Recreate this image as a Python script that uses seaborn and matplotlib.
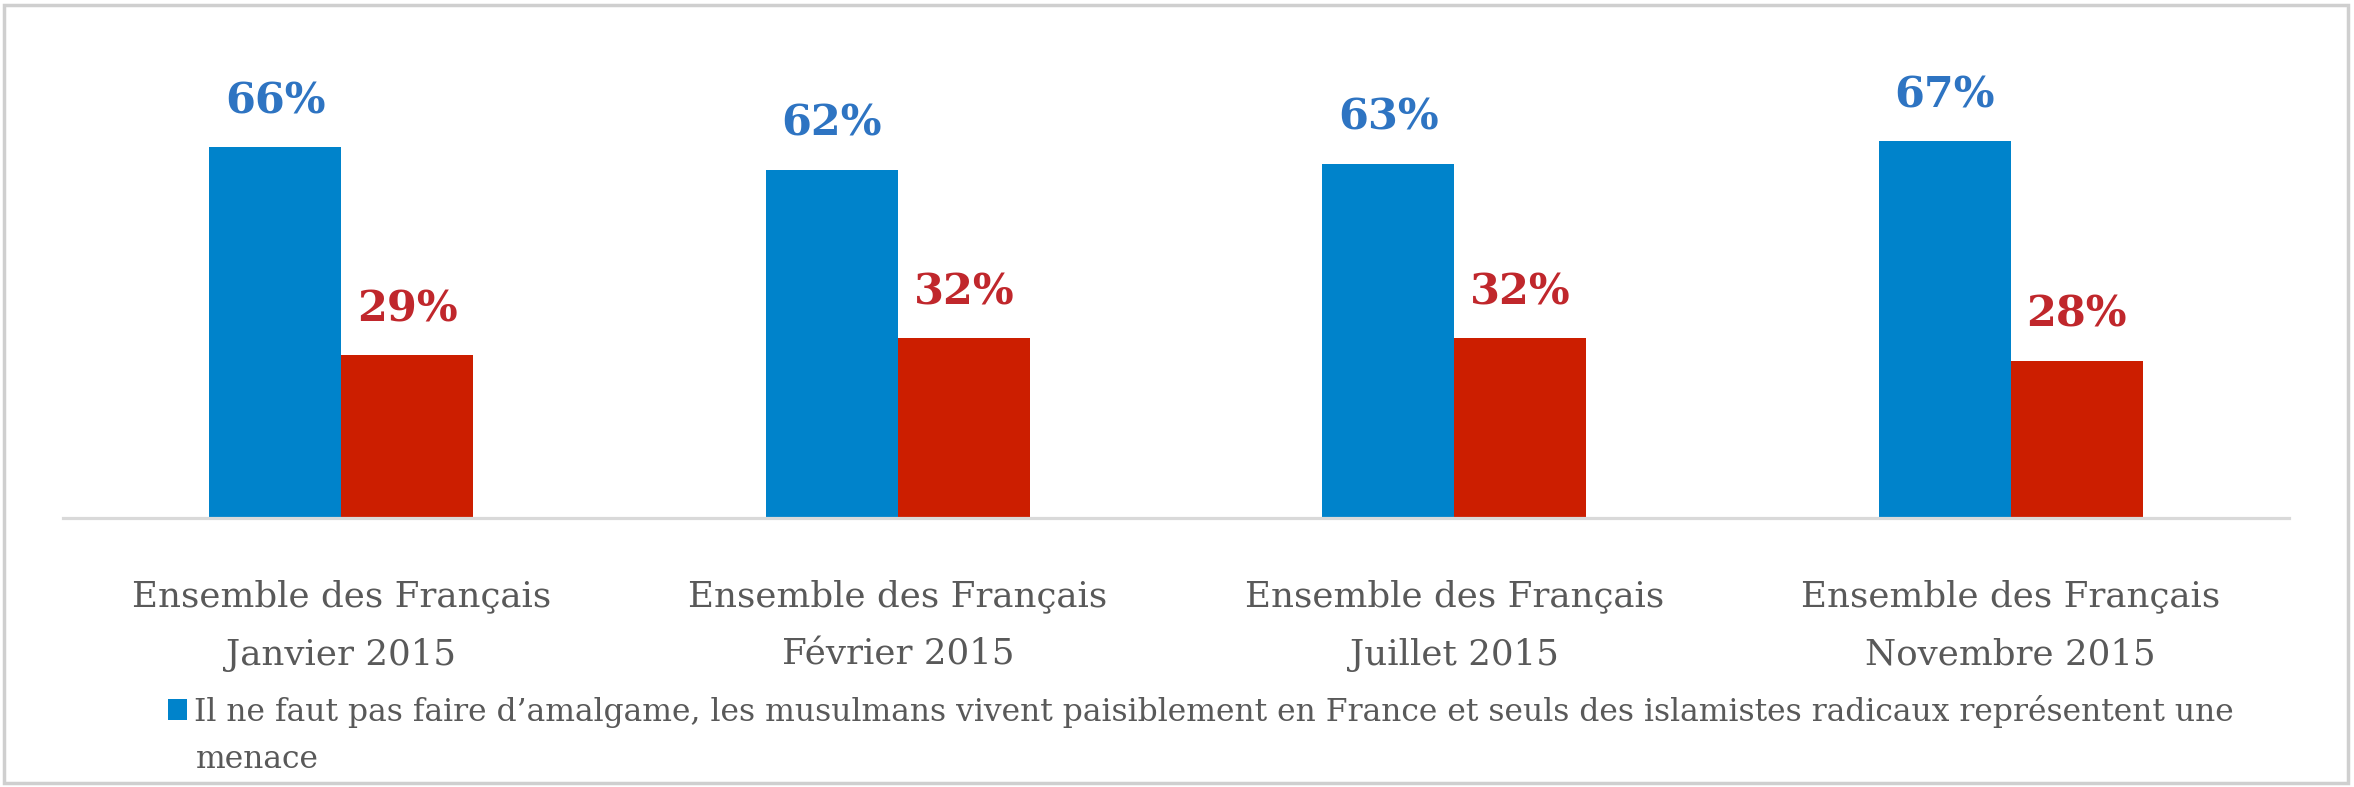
import pandas as pd
import numpy as np
import matplotlib.pyplot as plt
import seaborn as sns
from matplotlib.patches import Rectangle

# ==================== données ====================
categories = ['Ensemble des Français\nJanvier 2015',
              'Ensemble des Français\nFévrier 2015',
              'Ensemble des Français\nJuillet 2015',
              'Ensemble des Français\nNovembre 2015']
series = ["Il ne faut pas faire d\u2019amalgame, les musulmans vivent paisiblement en France et seuls des islamistes radicaux représentent une",
          "Les musulmans représentent une menace"]
amalgame_non = [66, 62, 63, 67]
menace = [29, 32, 32, 28]

bar_colors = ['#0083CB', '#CC1E00']
label_colors = ['#2E74C2', '#C0272C']
grey_txt = '#595959'

df = pd.DataFrame({
    'cat': categories * 2,
    'serie': [series[0]] * 4 + [series[1]] * 4,
    'val': amalgame_non + menace,
})

# ==================== réglages ====================
sns.set_style('white')
plt.rcParams['font.family'] = ['DejaVu Serif']

W, H = 2354, 787
fig = plt.figure(figsize=(W / 100, H / 100), dpi=100)
ax = fig.add_axes([63 / W, (H - 518) / H, 2226 / W, 88 * 5.62 / H])

sns.barplot(data=df, x='cat', y='val', hue='serie', palette=bar_colors,
            width=0.475, dodge=True, linewidth=0, saturation=1, ax=ax)

ax.set_ylim(0, 88)
ax.set_xlabel('')
ax.set_ylabel('')
ax.set_yticks([])
for s in ['top', 'left', 'right']:
    ax.spines[s].set_visible(False)
ax.spines['bottom'].set_color('#d9d9d9')
ax.spines['bottom'].set_linewidth(2.3)
ax.tick_params(axis='x', length=0, pad=44, labelsize=25.7, labelcolor=grey_txt)
for t in ax.get_xticklabels():
    t.set_linespacing(1.92)

# étiquettes de valeur
for cont, col in zip(ax.containers, label_colors):
    ax.bar_label(cont, labels=[f'{int(v)}%' for v in cont.datavalues],
                 padding=18, color=col, fontsize=31, fontweight='bold')

# légende (seule la 1re série est visible sur l'original)
handles, labels = ax.get_legend_handles_labels()
ax.get_legend().remove()
fig.legend(handles[:1], labels[:1], loc='center left',
           bbox_to_anchor=(168 / W, 1 - 711 / H), frameon=False,
           borderpad=0, borderaxespad=0, fontsize=22.6,
           handlelength=0.62, handleheight=0.62, handletextpad=0.22,
           labelcolor=grey_txt)
fig.text(196 / W, 1 - 760 / H, 'menace', fontsize=22.6, color=grey_txt,
         va='center', ha='left')

# cadre
fig.patches.append(Rectangle((4 / W, 4 / H), 2344 / W, 778 / H,
                             transform=fig.transFigure, fill=False,
                             edgecolor='#cfcfcf', linewidth=2.5))

plt.savefig('out.png', dpi=100)
